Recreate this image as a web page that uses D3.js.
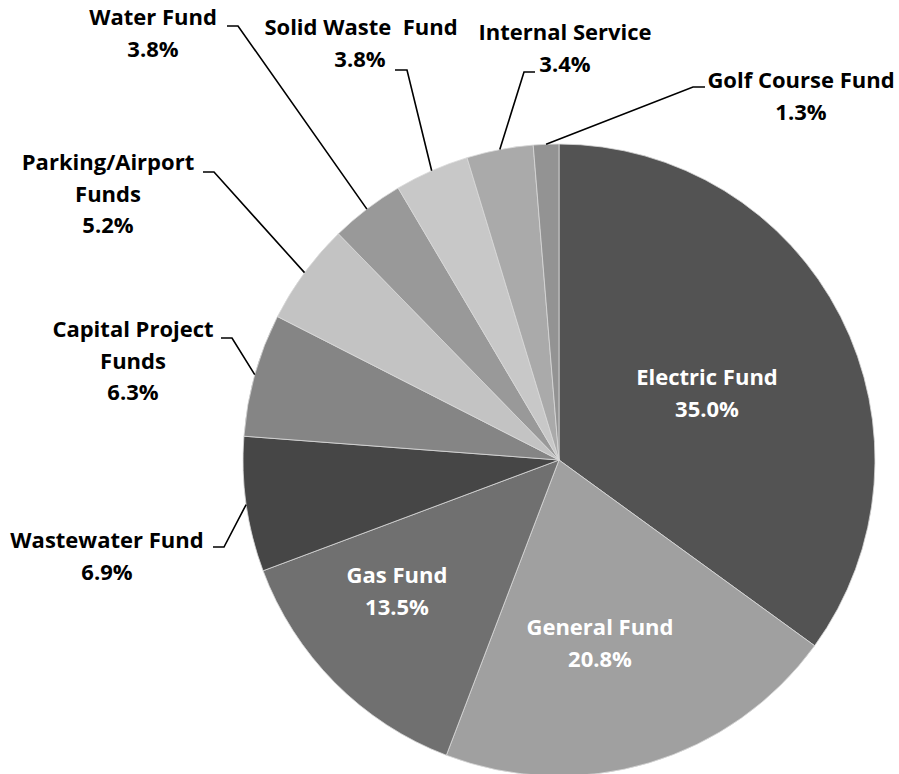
<!DOCTYPE html>
<html>
<head>
<meta charset="utf-8">
<script src="https://cdn.jsdelivr.net/npm/d3@7"></script>
<style>
  html, body { margin: 0; padding: 0; background: #ffffff; }
  svg { display: block; }
  text { font-family: "Open Sans", Lato, sans-serif; font-weight: bold; font-size: 22px; }
</style>
</head>
<body>
<svg id="chart" width="899" height="774"></svg>
<script>
// Share of spending by fund (percent), clockwise from 12 o'clock
const funds = ["Electric Fund", "General Fund", "Gas Fund", "Wastewater Fund", "Capital Project Funds",
               "Parking/Airport Funds", "Water Fund", "Solid Waste Fund", "Internal Service", "Golf Course Fund"];
const shares = [35.0, 20.8, 13.5, 6.9, 6.3, 5.2, 3.8, 3.8, 3.4, 1.3];
const fills = ["#535353", "#a0a0a0", "#707070", "#464646", "#858585",
               "#c3c3c3", "#999999", "#c8c8c8", "#aaaaaa", "#939393"];

// Label text lines for each slice (name lines, then the value)
const labelLines = [
  ["Electric Fund"], ["General Fund"], ["Gas Fund"], ["Wastewater Fund"], ["Capital Project", "Funds"],
  ["Parking/Airport", "Funds"], ["Water Fund"], ["Solid Waste  Fund"], ["Internal Service"], ["Golf Course Fund"]
];

// Label placement: inside labels are white text on the slice;
// outside labels are a text block with a short elbow leader to the rim.
const labelLayout = [
  { inside: true, x: 707, y: 385 },
  { inside: true, x: 600, y: 635 },
  { inside: true, x: 397, y: 583 },
  { inside: false, x: 107, y: 548, elbow: [[213, 547], [224, 547]] },
  { inside: false, x: 133, y: 337, elbow: [[221, 338], [232, 338]] },
  { inside: false, x: 108, y: 170, elbow: [[203, 172], [214, 172]] },
  { inside: false, x: 153, y: 25,  elbow: [[227, 26], [238, 26]] },
  { inside: false, x: 361, y: 35, valueX: 360, elbow: [[395, 70], [407, 70]] },
  { inside: false, x: 565, y: 40,  elbow: [[535, 72], [524, 72]] },
  { inside: false, x: 801, y: 88,  elbow: [[705, 87], [693, 87]] }
];

const cx = 559, cy = 460, radius = 316;
const lineGap = 31.5;

const svg = d3.select("#chart");
const g = svg.append("g").attr("transform", `translate(${cx},${cy})`);

const data = funds.map((name, i) => ({ name, value: shares[i], fill: fills[i], lines: labelLines[i], layout: labelLayout[i] }));

const pie = d3.pie().value(d => d.value).sort(null);
const arc = d3.arc().innerRadius(0).outerRadius(radius);
const rim = d3.arc().innerRadius(radius).outerRadius(radius);

const arcs = pie(data);

g.selectAll("path.slice")
  .data(arcs)
  .enter().append("path")
  .attr("class", "slice")
  .attr("d", arc)
  .attr("fill", d => d.data.fill)
  .attr("stroke", "#d9d9d9")
  .attr("stroke-width", 0.8);

// Leader lines for outside labels: elbow then straight to the slice's rim midpoint
const outside = arcs.filter(d => !d.data.layout.inside);
g.selectAll("path.leader")
  .data(outside)
  .enter().append("path")
  .attr("class", "leader")
  .attr("fill", "none")
  .attr("stroke", "#000")
  .attr("stroke-width", 1.6)
  .attr("d", d => {
    const e = d.data.layout.elbow.map(p => [p[0] - cx, p[1] - cy]);
    const end = rim.centroid(d);
    return d3.line()([e[0], e[1], end]);
  });

// Labels
const labels = svg.selectAll("text.label")
  .data(arcs)
  .enter().append("text")
  .attr("class", "label")
  .attr("text-anchor", "middle")
  .attr("fill", d => d.data.layout.inside ? "#ffffff" : "#000000");

labels.each(function(d) {
  const t = d3.select(this);
  const L = d.data.layout;
  const lines = d.data.lines.concat([d3.format(".1f")(d.data.value) + "%"]);
  lines.forEach((s, i) => {
    const isValue = i === lines.length - 1;
    t.append("tspan")
      .attr("x", isValue && L.valueX ? L.valueX : L.x)
      .attr("y", L.y + i * lineGap)
      .attr("xml:space", "preserve")
      .text(s);
  });
});
</script>
</body>
</html>
